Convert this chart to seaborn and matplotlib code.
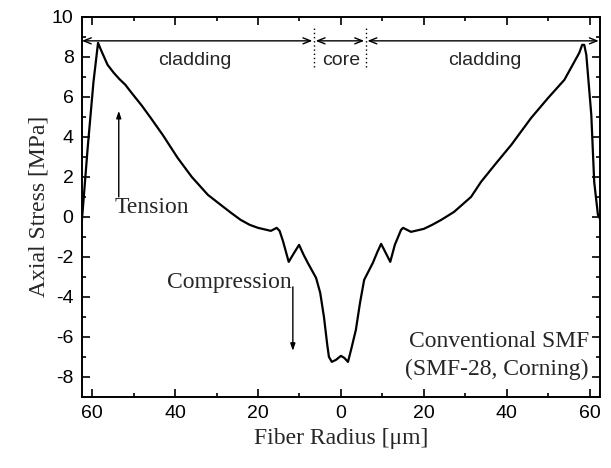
import matplotlib
matplotlib.use("Agg")
import matplotlib.pyplot as plt
import seaborn as sns
import pandas as pd
from matplotlib.ticker import FixedLocator, MultipleLocator

# ---- data ----
radius = [-62.5, -61.1, -59.7, -58.6, -57.8, -56.3, -54.8, -53.5, -52.0, -50.7,
          -48.0, -45.9, -43.0, -39.4, -36.0, -32.1, -29.0, -26.5, -24.2, -22.0,
          -20.0, -16.9, -15.5, -14.8, -14.0, -12.6, -11.3, -10.1, -9.0, -8.0,
          -6.0, -5.0, -4.1, -3.3, -2.9, -2.2, -1.2, 0.0, 0.8, 1.7,
          2.5, 3.6, 4.6, 5.6, 7.7, 8.8, 9.7, 10.8, 11.9, 13.0,
          14.5, 15.0, 16.9, 20.0, 22.0, 24.2, 27.3, 31.4, 33.8, 37.5,
          41.1, 45.9, 50.0, 53.9, 56.3, 57.5, 58.2, 58.7, 59.2, 60.4,
          61.1, 62.0, 63.0]
stress = [-0.2, 3.45, 6.75, 8.7, 8.3, 7.6, 7.2, 6.9, 6.6, 6.25,
          5.55, 4.95, 4.1, 2.95, 2.0, 1.1, 0.6, 0.2, -0.15, -0.4,
          -0.55, -0.7, -0.55, -0.7, -1.2, -2.25, -1.8, -1.4, -1.9, -2.3,
          -3.05, -3.8, -5.0, -6.4, -7.0, -7.25, -7.15, -6.95, -7.05, -7.25,
          -6.6, -5.65, -4.3, -3.15, -2.3, -1.75, -1.35, -1.8, -2.25, -1.4,
          -0.65, -0.55, -0.75, -0.6, -0.4, -0.15, 0.25, 1.0, 1.75, 2.7,
          3.6, 4.95, 5.95, 6.85, 7.75, 8.2, 8.6, 8.6, 8.1, 5.1,
          1.75, 0.1, -0.3]

x_ticks = [-60, -40, -20, 0, 20, 40, 60]
x_tick_labels = ["60", "40", "20", "0", "20", "40", "60"]
y_ticks = [-8, -6, -4, -2, 0, 2, 4, 6, 8, 10]

region_labels = ["cladding", "core", "cladding"]
core_edges = [-6.5, 6.0]

df = pd.DataFrame({"radius": radius, "stress": stress})

sns.set_theme(style="ticks")
plt.rcParams["font.family"] = ["Liberation Sans", "DejaVu Sans"]
plt.rcParams["axes.unicode_minus"] = False

fig = plt.figure(figsize=(6.11, 4.68), dpi=100)
ax = fig.add_axes([0.134, 0.152, 0.848, 0.812])

sns.lineplot(data=df, x="radius", y="stress", ax=ax, color="black",
             linewidth=1.6, sort=False, estimator=None)

ax.set_xlim(-62.5, 62.5)
ax.set_ylim(-9, 10)
ax.xaxis.set_major_locator(FixedLocator(x_ticks))
ax.set_xticklabels(x_tick_labels)
ax.xaxis.set_minor_locator(MultipleLocator(10))
ax.yaxis.set_major_locator(FixedLocator(y_ticks))
ax.set_yticklabels([str(v) for v in y_ticks])
ax.yaxis.set_minor_locator(MultipleLocator(1))

ax.tick_params(which="both", direction="in", top=True, right=True,
               colors="black", width=1.2)
ax.tick_params(which="major", length=6, labelsize=14, pad=6)
ax.tick_params(which="minor", length=3)
for s in ax.spines.values():
    s.set_linewidth(1.4)
    s.set_color("black")

serif = ["Liberation Serif", "DejaVu Serif"]
ax.set_xlabel("Fiber Radius [μm]", family=serif, fontsize=17, labelpad=4)
ax.set_ylabel("Axial Stress [MPa]", family=serif, fontsize=17, labelpad=2)

# region arrows
y_arr = 8.8
arrow_kw = dict(arrowstyle="<->,head_length=0.45,head_width=0.18", color="black", lw=1.0,
                shrinkA=0, shrinkB=0)
xl, xr = ax.get_xlim()
ax.annotate("", xy=(xl, y_arr), xytext=(core_edges[0] - 0.4, y_arr), arrowprops=arrow_kw)
ax.annotate("", xy=(core_edges[0] + 0.4, y_arr), xytext=(core_edges[1] - 0.4, y_arr), arrowprops=arrow_kw)
ax.annotate("", xy=(core_edges[1] + 0.4, y_arr), xytext=(xr - 0.3, y_arr), arrowprops=arrow_kw)
for xe in core_edges:
    ax.plot([xe, xe], [7.5, 9.5], color="black", lw=1.0, linestyle=(0, (1, 2)))

ax.text(-35.3, 7.8, region_labels[0], ha="center", va="center", fontsize=14)
ax.text(0, 7.8, region_labels[1], ha="center", va="center", fontsize=14)
ax.text(34.6, 7.8, region_labels[2], ha="center", va="center", fontsize=14)

# tension / compression
ax.annotate("", xy=(-53.6, 5.3), xytext=(-53.6, 1.0),
            arrowprops=dict(arrowstyle="-|>,head_length=0.35,head_width=0.12",
                            color="black", lw=1.0, shrinkA=0, shrinkB=0))
ax.text(-54.6, 0.45, "Tension", family=serif, fontsize=17, ha="left", va="center")

ax.annotate("", xy=(-11.6, -6.7), xytext=(-11.6, -3.5),
            arrowprops=dict(arrowstyle="-|>,head_length=0.35,head_width=0.12",
                            color="black", lw=1.0, shrinkA=0, shrinkB=0))
ax.text(-11.9, -3.3, "Compression", family=serif, fontsize=17, ha="right", va="center")

ax.text(59.8, -6.25, "Conventional SMF", family=serif, fontsize=17, ha="right", va="center")
ax.text(59.8, -7.65, "(SMF-28, Corning)", family=serif, fontsize=17, ha="right", va="center")

fig.savefig("out.png", dpi=100)
